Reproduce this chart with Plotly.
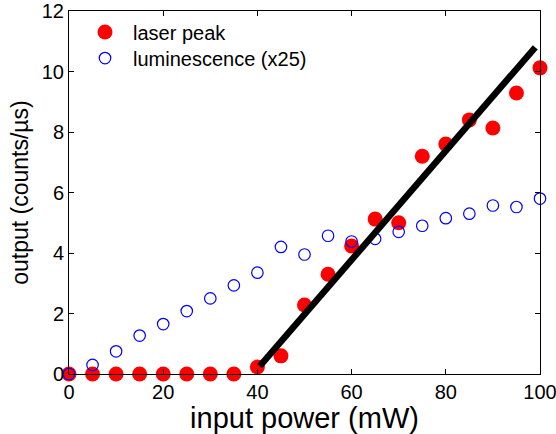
import plotly.graph_objects as go

power = [0, 5, 10, 15, 20, 25, 30, 35, 40, 45, 50, 55, 60, 65, 70, 75, 80, 85, 90, 95, 100]
laser_peak = [0, 0, 0, 0, 0, 0, 0, 0, 0.23, 0.6, 2.28, 3.3, 4.23, 5.12, 5.0, 7.2, 7.6, 8.4, 8.13, 9.29, 10.12]
luminescence = [0.0, 0.3, 0.75, 1.27, 1.65, 2.08, 2.5, 2.93, 3.35, 4.2, 3.95, 4.57, 4.38, 4.47, 4.7, 4.9, 5.15, 5.3, 5.57, 5.52, 5.8]
fit_x = [40.5, 99]
fit_y = [0.26, 10.8]

FONT = "Liberation Sans, Arial, sans-serif"

fig = go.Figure()
fig.add_trace(go.Scatter(x=power, y=laser_peak, mode="markers", name="laser peak",
                         marker=dict(color="#ff0000", size=15, line=dict(width=0)),
                         cliponaxis=False, legend="legend"))
fig.add_trace(go.Scatter(x=power, y=luminescence, mode="markers", name="luminescence (x25)",
                         marker=dict(symbol="circle-open", color="#0000ff", size=11.5, line=dict(width=1.2)),
                         cliponaxis=False, legend="legend2"))
fig.add_trace(go.Scatter(x=fit_x, y=fit_y, mode="lines", showlegend=False,
                         line=dict(color="black", width=6.5), cliponaxis=False))

axis_common = dict(showgrid=False, zeroline=False, showline=True, linecolor="black", linewidth=1,
                   mirror="allticks", ticks="inside", ticklen=5, tickcolor="black",
                   automargin=False, ticklabeloverflow="allow",
                   tickfont=dict(family=FONT, size=20, color="black"))

legend_common = dict(xanchor="left", yanchor="top", bgcolor="rgba(0,0,0,0)",
                     font=dict(family=FONT, size=20, color="black"), itemwidth=46)

fig.update_layout(
    width=556, height=434,
    margin=dict(l=69, r=16, t=11, b=60),
    paper_bgcolor="white", plot_bgcolor="white",
    xaxis=dict(range=[0, 100], tickvals=[0, 20, 40, 60, 80, 100],
               title=dict(text="input power (mW)", font=dict(family=FONT, size=29, color="black"), standoff=0),
               **axis_common),
    yaxis=dict(range=[0, 12], tickvals=[0, 2, 4, 6, 8, 10, 12],
               title=dict(text="output (counts/\u00b5s)", font=dict(family=FONT, size=23, color="black"), standoff=6),
               **axis_common),
    legend=dict(x=0.017, y=0.996, **legend_common),
    legend2=dict(x=0.017, y=0.924, **legend_common),
    showlegend=True,
)

fig.write_html("out.html")
